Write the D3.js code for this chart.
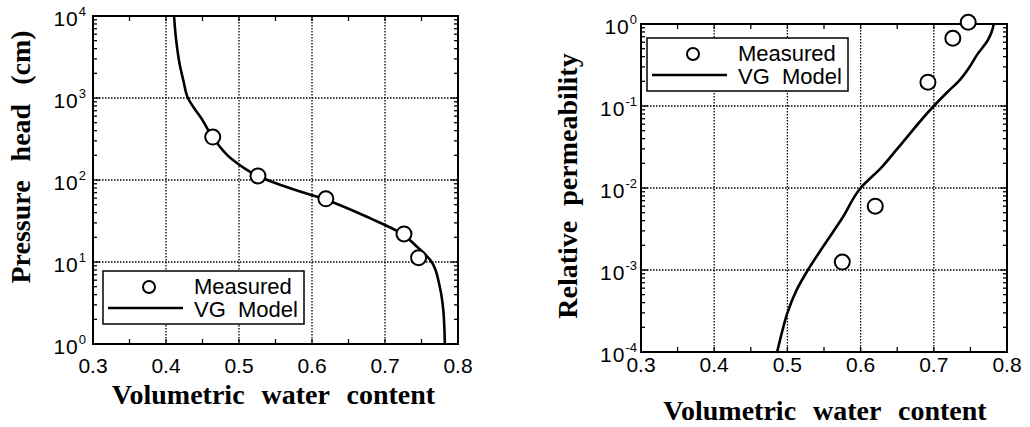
<!DOCTYPE html>
<html>
<head>
<meta charset="utf-8">
<script src="https://cdn.jsdelivr.net/npm/d3@7"></script>
<style>
  body { margin: 0; background: #fff; }
  svg { display: block; }
</style>
</head>
<body>
<div id="chart"></div>
<script>
// water retention (left) data
var headMeasTheta = [0.464, 0.526, 0.619, 0.726, 0.746];
var headMeasH = [334, 112, 59, 22, 11.3];
var headVgTheta = [0.411, 0.414, 0.419, 0.424, 0.430, 0.441, 0.447, 0.464, 0.490, 0.526, 0.560, 0.620, 0.680, 0.720, 0.745, 0.764, 0.775, 0.780, 0.782];
var headVgH = [10000, 5000, 2500, 1600, 1000, 700, 590, 334, 180, 112, 85, 57, 34, 23, 15, 10, 5, 2.5, 1];

// relative permeability (right) data
var permMeasTheta = [0.575, 0.620, 0.692, 0.726, 0.747];
var permMeasK = [0.00125, 0.006, 0.195, 0.67, 1.05];
var permVgTheta = [0.486, 0.493, 0.500, 0.513, 0.528, 0.550, 0.575, 0.600, 0.629, 0.650, 0.700, 0.718, 0.736, 0.750, 0.759, 0.774, 0.779, 0.782];
var permVgK = [0.0001, 0.00018, 0.0003, 0.00058, 0.001, 0.002, 0.0043, 0.01, 0.018, 0.03, 0.1, 0.146, 0.21, 0.31, 0.42, 0.64, 0.8, 1.0];

var xTicks = [0.3, 0.4, 0.5, 0.6, 0.7, 0.8];
var legendLabels = ["Measured", "VG  Model"];

var svg = d3.select("#chart").append("svg")
  .attr("width", 1030)
  .attr("height", 427);

function drawPanel(p) {
  var x = d3.scaleLinear().domain([0.3, 0.8]).range([p.left, p.right]);
  var y = d3.scaleLog().domain([p.ymin, p.ymax]).range([p.bottom, p.top]);
  var g = svg.append("g");

  var decades = d3.range(Math.log10(p.ymin), Math.log10(p.ymax) + 1);

  // dotted grid
  g.selectAll(".gx").data(xTicks.slice(1, -1)).enter().append("line")
    .attr("x1", function(d) { return x(d); }).attr("x2", function(d) { return x(d); })
    .attr("y1", p.top).attr("y2", p.bottom)
    .attr("stroke", "#000").attr("stroke-width", 1.3).attr("stroke-dasharray", "1.5,1.5");
  g.selectAll(".gy").data(decades.slice(1, -1)).enter().append("line")
    .attr("x1", p.left).attr("x2", p.right)
    .attr("y1", function(d) { return y(Math.pow(10, d)); })
    .attr("y2", function(d) { return y(Math.pow(10, d)); })
    .attr("stroke", "#000").attr("stroke-width", 1.3).attr("stroke-dasharray", "1.5,1.5");

  // x ticks every 0.05, inward at bottom and top
  var xt = d3.range(0.3, 0.8001, 0.05);
  xt.forEach(function(v) {
    g.append("line").attr("x1", x(v)).attr("x2", x(v))
      .attr("y1", p.bottom).attr("y2", p.bottom - 5).attr("stroke", "#000").attr("stroke-width", 1.3);
    g.append("line").attr("x1", x(v)).attr("x2", x(v))
      .attr("y1", p.top).attr("y2", p.top + 5).attr("stroke", "#000").attr("stroke-width", 1.3);
  });

  // log y ticks, major and minor, both sides
  var yt = y.ticks();
  yt.forEach(function(v) {
    var major = Math.abs(Math.log10(v) - Math.round(Math.log10(v))) < 1e-6;
    var len = major ? 7 : 4;
    g.append("line").attr("x1", p.left).attr("x2", p.left + len)
      .attr("y1", y(v)).attr("y2", y(v)).attr("stroke", "#000").attr("stroke-width", 1.3);
    g.append("line").attr("x1", p.right).attr("x2", p.right - len)
      .attr("y1", y(v)).attr("y2", y(v)).attr("stroke", "#000").attr("stroke-width", 1.3);
  });

  // frame
  g.append("rect").attr("x", p.left).attr("y", p.top)
    .attr("width", p.right - p.left).attr("height", p.bottom - p.top)
    .attr("fill", "none").attr("stroke", "#000").attr("stroke-width", 2);

  // x tick labels
  g.selectAll(".xl").data(xTicks).enter().append("text")
    .attr("x", function(d) { return x(d); })
    .attr("y", p.bottom + p.xLabelDy)
    .attr("text-anchor", "middle")
    .attr("font-family", "'Liberation Sans', Arial, sans-serif")
    .attr("font-size", 21)
    .text(function(d) { return d3.format(".1f")(d); });

  // y tick labels 10^n
  decades.forEach(function(d) {
    var t = g.append("text")
      .attr("x", p.left - p.yLabelGap)
      .attr("y", y(Math.pow(10, d)) + 10)
      .attr("text-anchor", "end")
      .attr("font-family", "'Liberation Sans', Arial, sans-serif")
      .attr("font-size", 21);
    t.append("tspan").attr("letter-spacing", 1).text("10");
    t.append("tspan").attr("dy", -10).attr("font-size", 13).text(String(d));
  });

  // model curve
  var pts = p.vgTheta.map(function(t, i) { return [t, p.vgVal[i]]; });
  g.append("path").datum(pts)
    .attr("d", d3.line()
      .x(function(d) { return x(d[0]); })
      .y(function(d) { return y(d[1]); })
      .curve(d3.curveMonotoneY))
    .attr("fill", "none").attr("stroke", "#000").attr("stroke-width", 2.6);

  // measured points
  g.selectAll(".pt").data(p.measTheta).enter().append("circle")
    .attr("cx", function(d) { return x(d); })
    .attr("cy", function(d, i) { return y(p.measVal[i]); })
    .attr("r", 7.5)
    .attr("fill", "#fff").attr("stroke", "#000").attr("stroke-width", 2);

  // legend
  var L = p.legend;
  g.append("rect").attr("x", L.x).attr("y", L.y).attr("width", 201).attr("height", 53)
    .attr("fill", "#fff").attr("stroke", "#000").attr("stroke-width", 1.5);
  g.append("circle").attr("cx", L.x + 46).attr("cy", L.y + 16).attr("r", 6)
    .attr("fill", "#fff").attr("stroke", "#000").attr("stroke-width", 2);
  g.append("line").attr("x1", L.x + 5).attr("x2", L.x + 80)
    .attr("y1", L.y + 37).attr("y2", L.y + 37).attr("stroke", "#000").attr("stroke-width", 2.6);
  legendLabels.forEach(function(lab, i) {
    g.append("text").attr("x", L.x + 91).attr("y", L.y + 23 + i * 23)
      .attr("font-family", "'Liberation Sans', Arial, sans-serif")
      .attr("font-size", 22)
      .style("white-space", "pre")
      .text(lab);
  });

  // axis titles
  g.append("text")
    .attr("x", (p.left + p.right) / 2 + p.xTitleDx)
    .attr("y", p.xTitleY)
    .attr("text-anchor", "middle")
    .attr("font-family", "'Liberation Serif', 'Times New Roman', serif")
    .attr("font-weight", "bold")
    .attr("font-size", 28)
    .attr("word-spacing", 10)
    .text("Volumetric water content");
  g.append("text")
    .attr("transform", "translate(" + p.yTitleX + "," + p.yTitleY + ") rotate(-90)")
    .attr("text-anchor", "middle")
    .attr("font-family", "'Liberation Serif', 'Times New Roman', serif")
    .attr("font-weight", "bold")
    .attr("font-size", 28)
    .attr("word-spacing", p.yTitleSpacing)
    .text(p.yTitle);
}

drawPanel({
  left: 93, right: 458, top: 16, bottom: 344,
  ymin: 1, ymax: 10000,
  vgTheta: headVgTheta, vgVal: headVgH,
  measTheta: headMeasTheta, measVal: headMeasH,
  legend: { x: 103, y: 271 },
  xLabelDy: 29, yLabelGap: 7,
  xTitleY: 404, xTitleDx: -2,
  yTitle: "Pressure head (cm)", yTitleX: 30, yTitleY: 157, yTitleSpacing: 12
});

drawPanel({
  left: 641, right: 1007, top: 24, bottom: 352,
  ymin: 0.0001, ymax: 1,
  vgTheta: permVgTheta, vgVal: permVgK,
  measTheta: permMeasTheta, measVal: permMeasK,
  legend: { x: 647, y: 38 },
  xLabelDy: 20, yLabelGap: 4,
  xTitleY: 420, xTitleDx: 1,
  yTitle: "Relative permeability", yTitleX: 577, yTitleY: 186, yTitleSpacing: 8
});
</script>
</body>
</html>
